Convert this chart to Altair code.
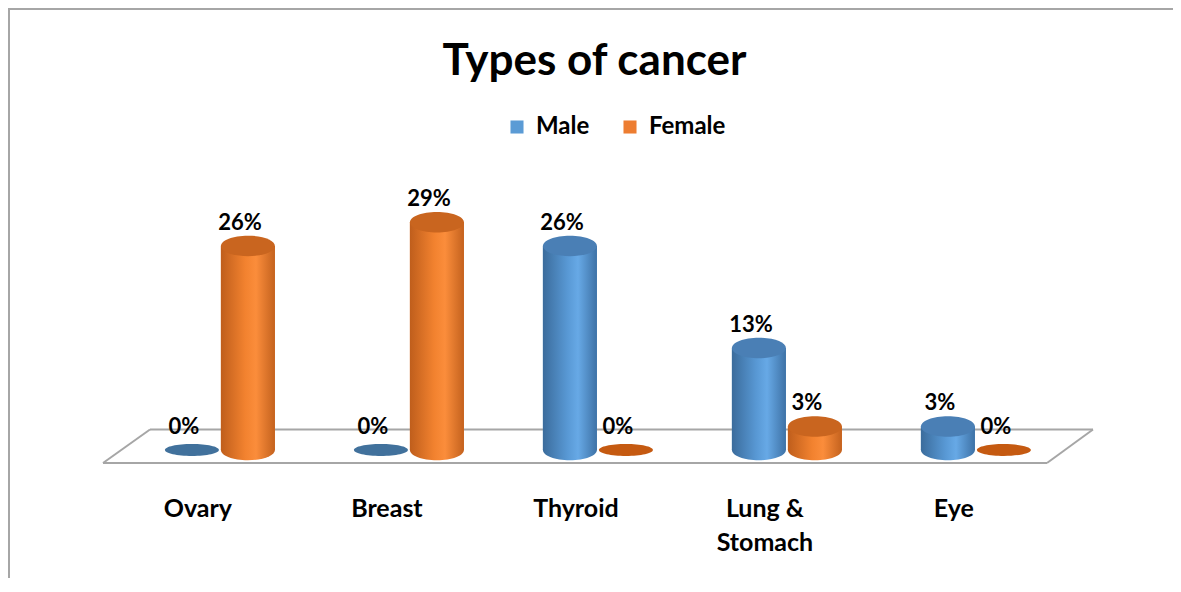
import altair as alt
import pandas as pd

# ---- data ----
categories = ["Ovary", "Breast", "Thyroid", "Lung & Stomach", "Eye"]
male = [0, 0, 26, 13, 3]
female = [26, 29, 0, 3, 0]
series = ["Male", "Female"]

rows = []
for c, m, f in zip(categories, male, female):
    rows.append({"cat": c, "sex": "Male", "value": m, "label": f"{m}%"})
    rows.append({"cat": c, "sex": "Female", "value": f, "label": f"{f}%"})
df = pd.DataFrame(rows)

FONT = "Lato"
BLUE = "#5B9BD5"
ORANGE = "#ED7D31"

def grad(c0, c1, c2, c3):
    return alt.LinearGradient(
        gradient="linear", x1=0, x2=1, y1=0, y2=0,
        stops=[alt.GradientStop(offset=0, color=c0), alt.GradientStop(offset=0.45, color=c1),
               alt.GradientStop(offset=0.65, color=c2), alt.GradientStop(offset=1, color=c3)])

blue_grad = grad("#3b6c9c", "#5898d4", "#67a9e6", "#3e72a6")
orange_grad = grad("#bf5e1c", "#f2822f", "#fb8d3b", "#c4621e")

def ellipse(ry):
    k = 0.5523
    a = round(ry * k, 4)
    return (f"M -1 0 C -1 {-a} {-k} {-ry} 0 {-ry} C {k} {-ry} 1 {-a} 1 0 "
            f"C 1 {a} {k} {ry} 0 {ry} C {-k} {ry} -1 {a} -1 0 Z")

TOP = ellipse(0.38)
FLAT = ellipse(0.22)
BW = 54
HALF = 28
W, H = 1165, 570

x_enc = alt.X("cat:N", title=None,
              scale=alt.Scale(domain=categories, paddingInner=0.404, paddingOuter=0.784, align=0.525),
              axis=alt.Axis(domain=False, ticks=False, grid=False, labelPadding=0,
                            offset=-82, labelOffset=-22, labelBaseline="top",
                            labelAngle=0, labelFontSize=25, labelFont=FONT,
                            labelFontWeight="bold", labelColor="black",
                            labelLineHeight=34,
                            labelExpr="datum.label == 'Lung & Stomach' ? ['Lung &', 'Stomach'] : datum.label"))
yscale = alt.Scale(domain=[-16.3, 56.3], nice=False)
y_enc = alt.Y("value:Q", title=None, axis=None, scale=yscale)
y0_enc = alt.Y("base:Q", title=None, axis=None, scale=yscale)

base = alt.Chart(df).transform_calculate(base="0").encode(x=x_enc)

# frame (left/top) and 3D floor plane decoration
deco_edges = [(1, 0, 1, H), (0, 1, W, 1),
              (142, 421.5, 1085, 421.5), (95, 455, 1039, 455),
              (142, 421.5, 95, 455), (1085, 421.5, 1039, 455)]
deco_layers = [
    alt.Chart(pd.DataFrame({"e": [0]})).mark_rule(color="#a6a6a6", strokeWidth=2).encode(
        x=alt.value(a), y=alt.value(b), x2=alt.value(c), y2=alt.value(d))
    for a, b, c, d in deco_edges
]

pos = alt.datum.value > 0
color_enc = alt.Color("sex:N",
                      scale=alt.Scale(domain=series, range=[BLUE, ORANGE]),
                      legend=alt.Legend(title=None, orient="none", legendX=497, legendY=107,
                                        direction="horizontal", symbolType="square",
                                        symbolSize=170, symbolStrokeWidth=0,
                                        labelFontSize=24, labelFont=FONT,
                                        labelFontWeight="bold", labelColor="black",
                                        columnPadding=28, labelOffset=7, padding=0))

layers = []
for s, off, g, topc, zc in [("Male", -HALF, blue_grad, "#4a7fb5", "#41719c"),
                            ("Female", HALF, orange_grad, "#c9651f", "#c55a11")]:
    sel = base.transform_filter(alt.datum.sex == s)
    leg = sel.transform_filter(pos).mark_bar(width=BW, xOffset=off).encode(
        y=y_enc, color=color_enc)
    bottom = sel.transform_filter(pos).mark_point(
        shape=TOP, size=BW * BW, filled=True, opacity=1, strokeWidth=0, color=g, xOffset=off
    ).encode(y=y0_enc)
    bar = sel.transform_filter(pos).mark_bar(width=BW, color=g, xOffset=off).encode(y=y_enc)
    top = sel.transform_filter(pos).mark_point(
        shape=TOP, size=BW * BW, filled=True, opacity=1, strokeWidth=0, color=topc, xOffset=off
    ).encode(y=y_enc)
    zero = sel.transform_filter(alt.datum.value == 0).mark_point(
        shape=FLAT, size=BW * BW, filled=True, opacity=1, strokeWidth=0, color=zc, xOffset=off
    ).encode(y=y_enc)
    lab = sel.mark_text(font=FONT, fontSize=22, fontWeight="bold", color="black",
                        baseline="alphabetic", dy=-16, dx=off - 8).encode(y=y_enc, text="label:N")
    layers += [leg, bottom, bar, top, zero, lab]

chart = alt.layer(*deco_layers, *layers).properties(
    width=W, height=H,
    autosize=alt.AutoSizeParams(type="none"), padding=0,
    background="white",
    title=alt.TitleParams("Types of cancer", fontSize=44, font=FONT, fontWeight="bold",
                          color="black", offset=-112, baseline="alphabetic",
                          anchor="middle", dx=4),
).configure_view(strokeWidth=0)

chart.save("out.html", embed_options={"renderer": "svg", "actions": False})
